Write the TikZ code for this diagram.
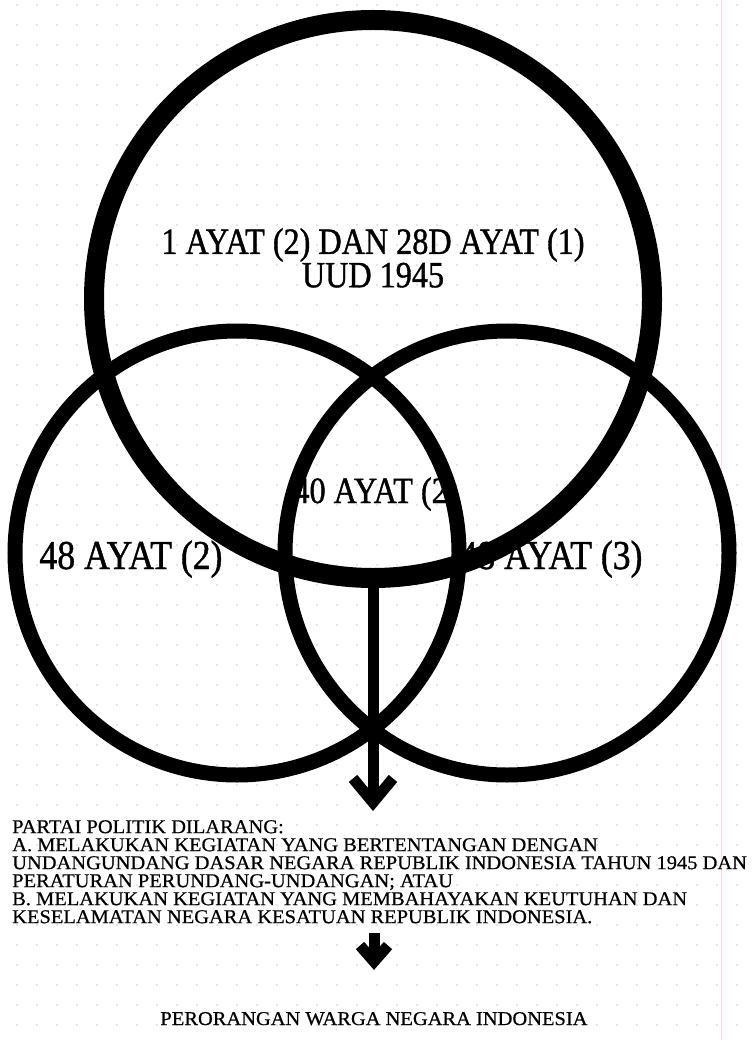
\documentclass[tikz,border=0pt]{standalone}
\usepackage{fontspec}
\setmainfont{Liberation Serif}
\newfontfamily\judul[FakeStretch=0.87,FakeBold=1]{Liberation Serif}
\newfontfamily\isi[FakeStretch=1.05,FakeBold=0.6]{Liberation Serif}
\usetikzlibrary{arrows.meta,positioning}

\begin{document}
\begin{tikzpicture}[
  x=1pt, y=-1pt,
  cincin/.style={draw, circle, inner sep=0pt},
  besar/.style={cincin, line width=20pt, minimum size=558pt},
  kecil/.style={cincin, line width=15pt, minimum size=444pt},
  pasal/.style={font=\judul\fontsize{41}{41}\selectfont, inner sep=0pt, anchor=base},
  teks/.style={font=\isi\fontsize{19.5}{18}\selectfont, inner xsep=0pt},
  pijak/.style={line width=11pt, -{Straight Barb[length=24pt, width=40pt]}},
  pendek/.style={line width=11pt, -{Straight Barb[length=16pt, width=28pt]}}
]
\useasboundingbox (0,0) rectangle (752,1040);
\fill[white] (0,0) rectangle (752,1040);
\foreach \i in {0,...,36}
  \foreach \j in {0,...,51}
    \fill[black!20] (17+20*\i, 5+20*\j) circle (0.9pt);
\draw[red!15, line width=1pt] (721,0) -- (721,1040);

\node[font=\judul\fontsize{37}{30}\selectfont, align=center, inner sep=0pt, anchor=north]
  (atas-teks) at (373,228) {1 AYAT (2) DAN 28D AYAT (1)\\UUD 1945};
\node[pasal] (kiri-teks) at (131,569) {48 AYAT (2)};
\node[pasal, font=\judul\fontsize{37}{37}\selectfont] (tengah-teks) at (376,503) {40 AYAT (2)};
\node[pasal] (kanan-teks) at (551,569) {48 AYAT (3)};

\node[besar] (atas) at (373,299) {};
\node[kecil] (kiri) at (237,553) {};
\node[kecil] (kanan) at (507,553) {};

\node[teks, align=left, inner ysep=9pt, anchor=north west] (larangan) at (12,811)
  {PARTAI POLITIK DILARANG:\\
   A. MELAKUKAN KEGIATAN YANG BERTENTANGAN DENGAN\\
   UNDANGUNDANG DASAR NEGARA REPUBLIK INDONESIA TAHUN 1945 DAN\\
   PERATURAN PERUNDANG-UNDANGAN; ATAU\\
   B. MELAKUKAN KEGIATAN YANG MEMBAHAYAKAN KEUTUHAN DAN\\
   KESELAMATAN NEGARA KESATUAN REPUBLIK INDONESIA.};
\node[teks, inner ysep=0pt, anchor=base] (warga) at (374,1025) {PERORANGAN WARGA NEGARA INDONESIA};

\draw[pijak] (atas.south) -- (atas.south |- larangan.north);
\draw[pendek, shorten >=42pt] (warga.north |- larangan.south) -- (warga.north);
\end{tikzpicture}
\end{document}
